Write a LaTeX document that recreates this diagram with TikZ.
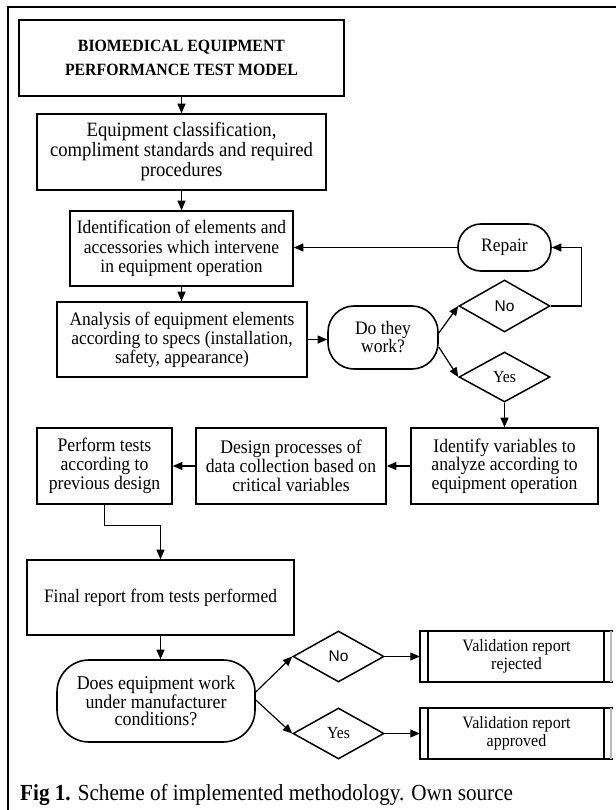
\documentclass[tikz,border=0pt]{standalone}
\usepackage{fontspec}
\setmainfont[FakeStretch=0.92]{Liberation Serif}
\newfontfamily\arialfont{Liberation Sans}
\usetikzlibrary{arrows.meta,shapes.geometric,calc}
\begin{document}
\begin{tikzpicture}[x=1pt,y=-1pt,
  box/.style={draw,line width=1.6pt,inner sep=0pt,align=center,font=\fontsize{19}{19.5}\selectfont},
  roundbox/.style={box,rounded corners=22pt},
  dia/.style={draw,line width=1.5pt,diamond,inner sep=0pt,minimum width=91pt,minimum height=51pt,aspect=1.8},
  conn/.style={line width=1.2pt,-{Triangle[length=9.5pt,width=8pt]}},
  plain/.style={line width=1.2pt}
]
\useasboundingbox (0,0) rectangle (615,810);
\draw[line width=2pt] (8,812) -- (8,7) -- (617,7);

\node[box,minimum width=325pt,minimum height=76pt,font=\bfseries\fontsize{17.2}{24}\selectfont] (title) at (181.5,58)
  {BIOMEDICAL EQUIPMENT\\PERFORMANCE TEST MODEL};
\node[box,minimum width=289pt,minimum height=76pt,font=\fontsize{20.3}{20}\selectfont] (cls) at (181.5,152)
  {Equipment classification,\\compliment standards and required\\procedures};
\node[box,minimum width=223pt,minimum height=75pt] (ident) at (181.5,248.5)
  {Identification of elements and\\accessories which intervene\\in equipment operation};
\node[roundbox,minimum width=93pt,minimum height=47pt,rounded corners=23pt] (repair) at (504.5,247.5) {Repair};
\node[box,minimum width=250pt,minimum height=75pt,font=\fontsize{19}{19}\selectfont] (anal) at (182,339.5)
  {Analysis of equipment elements\\according to specs (installation,\\safety, appearance)};
\node[roundbox,rounded corners=26pt,minimum width=110pt,minimum height=63pt,font=\fontsize{19}{18}\selectfont] (work) at (383,337.5) {Do they\\work?};
\node[dia,minimum height=52pt] (no1) at (504.5,306) {};
\node[font=\arialfont\fontsize{15.5}{15.5}\selectfont] at (no1) {No};
\node[dia,minimum height=50pt] (yes1) at (504.5,377) {};
\node[font=\fontsize{17}{17}\selectfont] at (yes1) {Yes};
\node[box,minimum width=187pt,minimum height=76pt,font=\fontsize{19.2}{18.7}\selectfont] (vars) at (504.5,466)
  {Identify variables to\\analyze according to\\equipment operation};
\node[box,minimum width=190pt,minimum height=76pt,font=\fontsize{19.2}{18.7}\selectfont] (design) at (291,466)
  {Design processes of\\data collection based on\\critical variables};
\node[box,minimum width=135pt,minimum height=76pt,font=\fontsize{19.2}{18.7}\selectfont] (perf) at (104.5,466)
  {Perform tests\\according to\\previous design};
\node[box,minimum width=267pt,minimum height=75pt] (final) at (160.5,597.5) {Final report from tests performed};
\node[roundbox,rounded corners=32pt,minimum width=198pt,minimum height=82pt,font=\fontsize{19.5}{17.8}\selectfont] (does) at (156,701)
  {Does equipment work\\under manufacturer\\conditions?};
\node[dia] (no2) at (338.5,656.5) {};
\node[font=\arialfont\fontsize{15.5}{15.5}\selectfont] at (no2) {No};
\node[dia] (yes2) at (338.5,733.5) {};
\node[font=\fontsize{17}{17}\selectfont] at (yes2) {Yes};
\node[inner sep=0pt,minimum width=193pt,minimum height=51pt,align=center,font=\fontsize{17.4}{17.7}\selectfont] (rej) at (516.5,656.5) {Validation report\\rejected};
\node[inner sep=0pt,minimum width=193pt,minimum height=51pt,align=center,font=\fontsize{17.4}{17.7}\selectfont] (app) at (516.5,733.5) {Validation report\\approved};
\foreach \n in {rej,app}{
  \draw[line width=1.6pt] (\n.north east) -- (\n.north west) -- (\n.south west) -- (\n.south east);
  \draw[line width=1.6pt] ([xshift=8pt]\n.north west) -- ([xshift=8pt]\n.south west);
  \draw[line width=1.6pt] ([xshift=-9pt]\n.north east) -- ([xshift=-9pt]\n.south east);
  \draw[line width=1.8pt,gray!55] ([xshift=-2pt]\n.north east) -- ([xshift=-2pt]\n.south east);
}
\node[anchor=west,inner sep=0pt,font=\fontsize{23}{23}\selectfont] (cap) at (20,795)
  {\textbf{Fig 1.} Scheme of implemented methodology. Own source};

\draw[conn] (title) -- (cls);
\draw[conn] (cls) -- (ident);
\draw[conn] (ident) -- (anal.north -| ident.south);
\draw[conn] (repair) -- (ident.east |- repair.west);
\draw[conn] (anal.east) -- (work.west |- anal.east);
\draw[conn] ([yshift=4.5pt]work.east) -- (no1.west);
\draw[conn] ([yshift=-9.5pt]work.east) -- (yes1.west);
\draw[conn] (no1.east) -- ++(31,0) |- (repair.east);
\draw[conn] (yes1.south) -- (vars.north);
\draw[conn] (vars) -- (design);
\draw[conn] (design) -- (perf);
\draw[conn] (perf.south) -- ++(0,21) -| (final.north);
\draw[conn] (final.south) -- (final.south |- does.north);
\draw[conn] ([yshift=9pt]does.east) -- (no2.west);
\draw[conn] ([yshift=1pt]does.east) -- (yes2.west);
\draw[conn] (no2.east) -- (rej.west);
\draw[conn] (yes2.east) -- (app.west);
\end{tikzpicture}
\end{document}
